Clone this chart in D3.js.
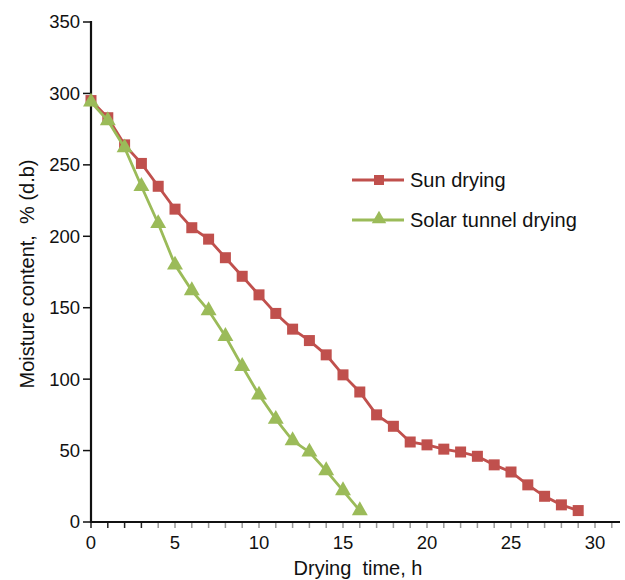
<!DOCTYPE html>
<html><head><meta charset="utf-8">
<script src="https://cdn.jsdelivr.net/npm/d3@7"></script>
<style>body{margin:0;background:#fff}svg{display:block}text{font-family:"Liberation Sans",Arial,sans-serif;fill:#111}</style>
</head><body>
<script>
const hoursSun = [0,1,2,3,4,5,6,7,8,9,10,11,12,13,14,15,16,17,18,19,20,21,22,23,24,25,26,27,28,29];
const sunDrying = [295,283,264,251,235,219,206,198,185,172,159,146,135,127,117,103,91,75,67,56,54,51,49,46,40,35,26,18,12,8];
const hoursTunnel = [0,1,2,3,4,5,6,7,8,9,10,11,12,13,14,15,16];
const solarTunnel = [294,281,262,235,209,180,162,148,130,109,89,72,57,49,36,22,8];
const yTicks = [0,50,100,150,200,250,300,350];
const xLabels = [0,5,10,15,20,25,30];
const seriesNames = ["Sun drying","Solar tunnel drying"];

const W=625,H=580;
const svg=d3.select("body").append("svg").attr("width",W).attr("height",H);
const x=d3.scaleLinear().domain([0,30]).range([91,595]);
const y=d3.scaleLinear().domain([0,350]).range([522,22]);
const red="#C0504D", green="#9BBB59";

// x minor ticks
const xt=d3.range(0,32);
svg.append("g").selectAll("line").data(xt).join("line")
  .attr("x1",d=>x(d)).attr("x2",d=>x(d)).attr("y1",522).attr("y2",528)
  .attr("stroke",d=>d<4?"#222":"#999").attr("stroke-width",1.5);
svg.append("g").selectAll("text").data(xLabels).join("text")
  .attr("x",d=>x(d)).attr("y",549).attr("text-anchor","middle").attr("font-size",18.5).text(d=>d);
svg.append("line").attr("x1",x(0)).attr("x2",620).attr("y1",522).attr("y2",522).attr("stroke","#111").attr("stroke-width",2.2);

// y axis
svg.append("g").selectAll("line").data(yTicks).join("line")
  .attr("x1",83).attr("x2",91).attr("y1",d=>y(d)).attr("y2",d=>y(d)).attr("stroke","#111").attr("stroke-width",1.5);
svg.append("g").selectAll("text").data(yTicks).join("text")
  .attr("x",80).attr("y",d=>y(d)).attr("dy","0.35em").attr("text-anchor","end").attr("font-size",18.5).text(d=>d);
svg.append("line").attr("x1",91).attr("x2",91).attr("y1",21).attr("y2",523).attr("stroke","#111").attr("stroke-width",2.2);

// titles
svg.append("text").attr("x",358).attr("y",575).attr("text-anchor","middle").attr("font-size",20).attr("xml:space","preserve").text("Drying  time, h");
svg.append("text").attr("transform","translate(34,274) rotate(-90)").attr("text-anchor","middle").attr("font-size",20).attr("xml:space","preserve").text("Moisture content,  % (d.b)");

const line=d3.line().x(d=>x(d[0])).y(d=>y(d[1]));
const sunPts=hoursSun.map((h,i)=>[h,sunDrying[i]]);
const tunPts=hoursTunnel.map((h,i)=>[h,solarTunnel[i]]);
svg.append("path").attr("d",line(sunPts)).attr("fill","none").attr("stroke",red).attr("stroke-width",2.8);
svg.append("g").selectAll("rect").data(sunPts).join("rect")
  .attr("x",d=>x(d[0])-5.5).attr("y",d=>y(d[1])-5.5).attr("width",11).attr("height",11).attr("fill",red);
svg.append("path").attr("d",line(tunPts)).attr("fill","none").attr("stroke",green).attr("stroke-width",2.8);
const tri=d3.symbol().type(d3.symbolTriangle).size(110);
svg.append("g").selectAll("path").data(tunPts).join("path")
  .attr("transform",d=>`translate(${x(d[0])},${y(d[1])})`).attr("d",tri).attr("fill",green);

// legend
const lg=svg.append("g");
[[red,180],[green,220]].forEach(([c,ly],i)=>{
  lg.append("line").attr("x1",352).attr("x2",404).attr("y1",ly).attr("y2",ly).attr("stroke",c).attr("stroke-width",2.8);
  if(i===0) lg.append("rect").attr("x",374).attr("y",ly-5).attr("width",10).attr("height",10).attr("fill",c);
  else lg.append("path").attr("transform",`translate(379,${ly-1})`).attr("d",d3.symbol().type(d3.symbolTriangle).size(90)).attr("fill",c);
  lg.append("text").attr("x",410).attr("y",ly).attr("dy","0.35em").attr("font-size",20).text(seriesNames[i]);
});
</script>
</body></html>
